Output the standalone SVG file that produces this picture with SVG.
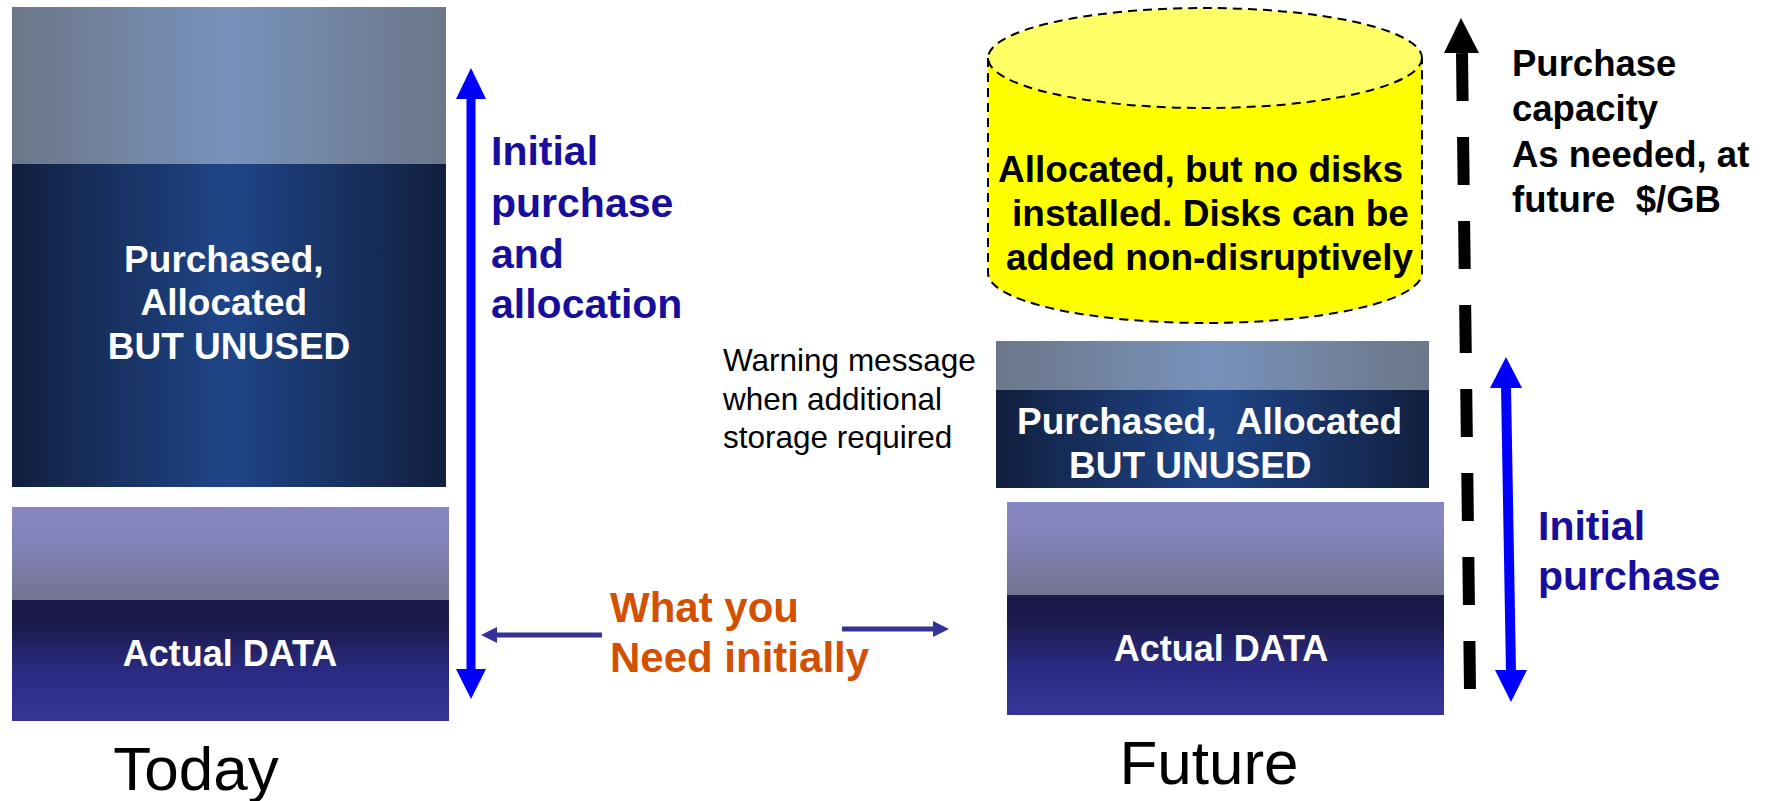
<svg xmlns="http://www.w3.org/2000/svg" width="1775" height="801" viewBox="0 0 1775 801">
  <defs>
    <linearGradient id="gradGray" x1="0" y1="0" x2="1" y2="0">
      <stop offset="0" stop-color="#6C7789"/>
      <stop offset="0.5" stop-color="#7892BB"/>
      <stop offset="1" stop-color="#6C7789"/>
    </linearGradient>
    <linearGradient id="gradNavy" x1="0" y1="0" x2="1" y2="0">
      <stop offset="0" stop-color="#111F3E"/>
      <stop offset="0.5" stop-color="#1F4588"/>
      <stop offset="1" stop-color="#111F3E"/>
    </linearGradient>
    <linearGradient id="gradLilac" x1="0" y1="0" x2="0" y2="1">
      <stop offset="0" stop-color="#8787C4"/>
      <stop offset="0.35" stop-color="#8383BB"/>
      <stop offset="1" stop-color="#737391"/>
    </linearGradient>
    <linearGradient id="gradData" x1="0" y1="0" x2="0" y2="1">
      <stop offset="0" stop-color="#1C1A4C"/>
      <stop offset="0.2" stop-color="#1B1A4A"/>
      <stop offset="0.6" stop-color="#2B2B84"/>
      <stop offset="1" stop-color="#353598"/>
    </linearGradient>
    <style>
      .white { font-family: "Liberation Sans", Arial, sans-serif; font-weight: bold; fill: #FFFFFF; }
      .blue { font-family: "Liberation Sans", Arial, sans-serif; font-weight: bold; fill: #170E9C; }
      .orange { font-family: "Liberation Sans", Arial, sans-serif; font-weight: bold; fill: #D25000; font-size: 42px; }
      .black { font-family: "Liberation Sans", Arial, sans-serif; font-weight: bold; fill: #000000; }
      .plain { font-family: "Liberation Sans", Arial, sans-serif; fill: #000000; }
      .pre { white-space: pre; }
      .dash { fill: none; stroke: #000000; stroke-width: 2; stroke-dasharray: 9 6; }
    </style>
  </defs>

  <rect width="1775" height="801" fill="#FFFFFF"/>

  <!-- Today: allocated but unused block -->
  <g id="today-allocated">
    <rect x="12" y="7" width="434" height="157" fill="url(#gradGray)"/>
    <rect x="12" y="164" width="434" height="323" fill="url(#gradNavy)"/>
    <text class="white" font-size="37" text-anchor="middle">
      <tspan x="229" y="272">Purchased,</tspan>
      <tspan x="229" y="315">Allocated</tspan>
      <tspan x="229" y="359">BUT UNUSED</tspan>
    </text>
  </g>

  <!-- Today: actual data block -->
  <g id="today-data">
    <rect x="12" y="507" width="437" height="93" fill="url(#gradLilac)"/>
    <rect x="12" y="600" width="437" height="121" fill="url(#gradData)"/>
    <text class="white" font-size="36" x="230" y="666" text-anchor="middle">Actual DATA</text>
  </g>

  <text id="label-today" class="plain" font-size="62" x="196" y="790" text-anchor="middle">Today</text>

  <!-- Initial purchase and allocation label -->
  <g id="label-initial-allocation">
    <text class="blue" font-size="41">
      <tspan x="491" y="165">Initial</tspan>
      <tspan x="491" y="217">purchase</tspan>
      <tspan x="491" y="268">and</tspan>
      <tspan x="491" y="318">allocation</tspan>
    </text>
  </g>

  <!-- What you need initially -->
  <g id="label-need">
    <text class="orange">
      <tspan x="610" y="622">What you</tspan>
      <tspan x="610" y="672">Need initially</tspan>
    </text>
  </g>

  <!-- Warning message note -->
  <g id="label-warning">
    <text class="plain" font-size="31.5">
      <tspan x="723" y="371">Warning message</tspan>
      <tspan x="723" y="410">when additional</tspan>
      <tspan x="723" y="448">storage required</tspan>
    </text>
  </g>

  <!-- Future: cylinder of allocated space without disks -->
  <g id="future-cylinder">
    <path d="M988,58 L988,273 A217,50 0 0 0 1422,273 L1422,58 Z" fill="#FFFF00"/>
    <ellipse cx="1205" cy="58" rx="217" ry="50" fill="#FFFF66"/>
    <path class="dash" d="M988,58 L988,273 A217,50 0 0 0 1422,273 L1422,58"/>
    <ellipse class="dash" cx="1205" cy="58" rx="217" ry="50"/>
    <text class="black" font-size="37">
      <tspan x="998" y="182">Allocated, but no disks</tspan>
      <tspan x="1012" y="226">installed. Disks can be</tspan>
      <tspan x="1006" y="270">added non-disruptively</tspan>
    </text>
  </g>

  <!-- Future: allocated but unused block -->
  <g id="future-allocated">
    <rect x="996" y="341" width="433" height="49" fill="url(#gradGray)"/>
    <rect x="996" y="390" width="433" height="98" fill="url(#gradNavy)"/>
    <text class="white pre" font-size="37" x="1017" y="434">Purchased,  Allocated</text>
    <text class="white" font-size="37" x="1069" y="478">BUT UNUSED</text>
  </g>

  <!-- Future: actual data block -->
  <g id="future-data">
    <rect x="1007" y="502" width="437" height="93" fill="url(#gradLilac)"/>
    <rect x="1007" y="595" width="437" height="120" fill="url(#gradData)"/>
    <text class="white" font-size="36" x="1221" y="661" text-anchor="middle">Actual DATA</text>
  </g>

  <text id="label-future" class="plain" font-size="62" x="1209" y="784" text-anchor="middle">Future</text>

  <!-- Purchase capacity label -->
  <g id="label-purchase-capacity">
    <text class="black pre" font-size="36.5">
      <tspan x="1512" y="76">Purchase</tspan>
      <tspan x="1512" y="121">capacity</tspan>
      <tspan x="1512" y="167">As needed, at</tspan>
      <tspan x="1512" y="212">future  $/GB</tspan>
    </text>
  </g>

  <!-- Initial purchase label -->
  <g id="label-initial-purchase">
    <text class="blue" font-size="41">
      <tspan x="1538" y="540">Initial</tspan>
      <tspan x="1538" y="590">purchase</tspan>
    </text>
  </g>

  <!-- Arrows -->
  <g id="connectors">
    <!-- double arrow: initial purchase and allocation -->
    <line x1="471" y1="97" x2="471" y2="671" stroke="#0000FF" stroke-width="9"/>
    <polygon points="471,68 486,99 456,99" fill="#0000FF"/>
    <polygon points="471,699 486,669 456,669" fill="#0000FF"/>

    <!-- pointers from the need label -->
    <line x1="602" y1="635" x2="494" y2="635" stroke="#333399" stroke-width="5"/>
    <polygon points="481,635 497,627 497,643" fill="#333399"/>
    <line x1="842" y1="629" x2="936" y2="629" stroke="#333399" stroke-width="5"/>
    <polygon points="949,629 933,621 933,637" fill="#333399"/>

    <!-- dashed arrow: purchase capacity as needed -->
    <path d="M1470,689 L1462,53" fill="none" stroke="#000000" stroke-width="12" stroke-dasharray="48 36"/>
    <polygon points="1461,18 1479,53 1444,53" fill="#000000"/>

    <!-- double arrow: initial purchase -->
    <line x1="1506" y1="386" x2="1511" y2="672" stroke="#0000FF" stroke-width="10"/>
    <polygon points="1506,357 1522,388 1490,388" fill="#0000FF"/>
    <polygon points="1511,702 1527,670 1495,670" fill="#0000FF"/>
  </g>
</svg>
